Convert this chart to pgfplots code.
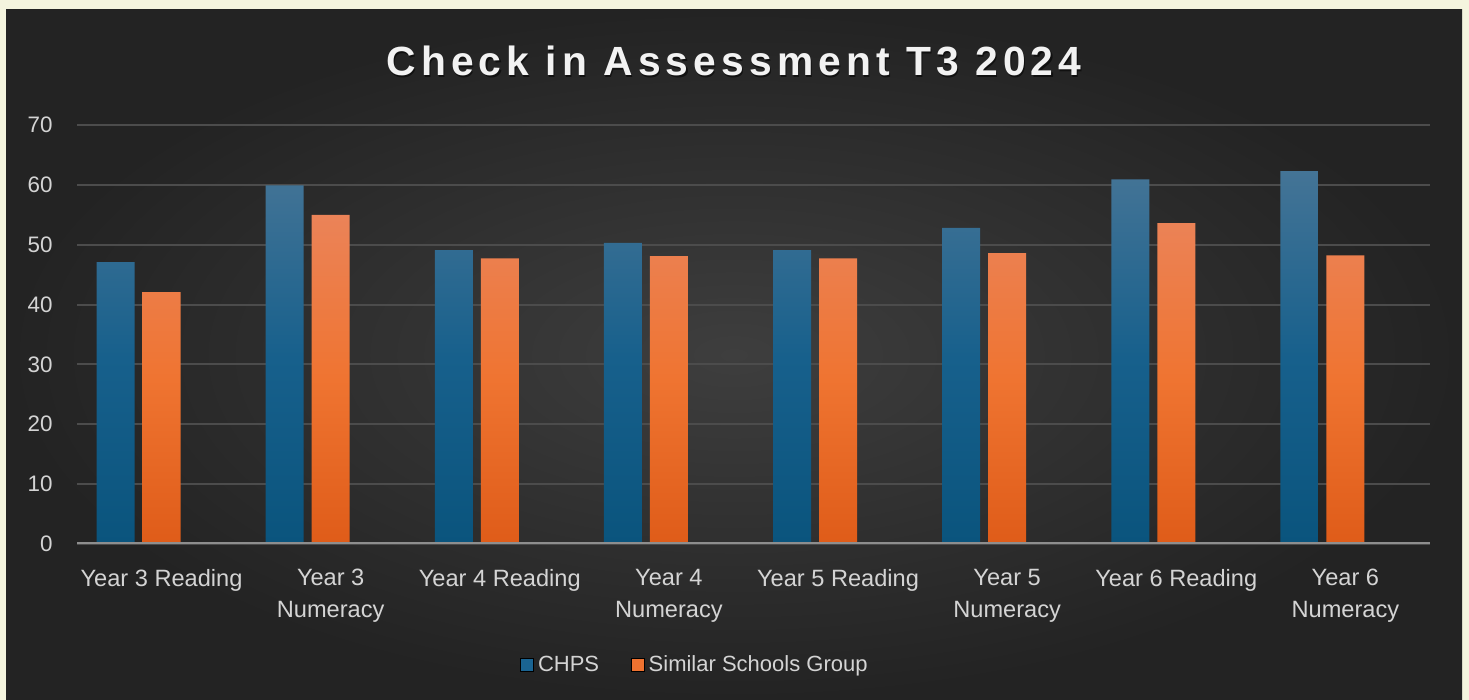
\documentclass[border=0pt]{standalone}
\usepackage{fontspec}
\setmainfont{Liberation Sans}
\newfontfamily\titlefont[LetterSpace=12.5]{Liberation Sans}
\usepackage{pgfplots}
\pgfplotsset{compat=1.18}
\definecolor{cream}{HTML}{F4F4DE}
\definecolor{bgin}{HTML}{3E3E3E}
\definecolor{bgout}{HTML}{232323}
\definecolor{titlecol}{HTML}{F2F2F2}
\definecolor{labelgray}{HTML}{D4D4D4}
\definecolor{gridgray}{HTML}{4C4C4C}
\definecolor{axisgray}{HTML}{8E8E8E}
\definecolor{bluetop}{HTML}{447496}
\definecolor{bluemid}{HTML}{17608C}
\definecolor{bluebot}{HTML}{0A547D}
\definecolor{orangetop}{HTML}{EB8358}
\definecolor{orangemid}{HTML}{EF7431}
\definecolor{orangebot}{HTML}{DF5C19}
\definecolor{chpsblue}{HTML}{1A6492}
\definecolor{ssgorange}{HTML}{EE7230}
\begin{document}
\begin{tikzpicture}
\useasboundingbox (0,0) rectangle (734.5pt,350pt);
\fill[cream] (0,0) rectangle (734.5pt,350pt);
\shade[inner color=bgin, outer color=bgout] (3pt,0) rectangle (731pt,345pt);
\node[anchor=base, text=black, opacity=0.55, inner sep=0pt] at (367.6pt,311.2pt) {\titlefont\fontsize{20.4}{24}\selectfont\bfseries Check in Assessment T3 2024};
\node[anchor=base, text=titlecol, inner sep=0pt] at (367pt,312pt) {\titlefont\fontsize{20.4}{24}\selectfont\bfseries Check in Assessment T3 2024};
\begin{axis}[
  at={(38.5pt,78pt)}, anchor=south west,
  scale only axis, width=676.5pt, height=209.5pt,
  xmin=-0.5, xmax=7.5, ymin=0, ymax=70,
  ytick={0,10,...,70},
  xtick={0,...,7},
  xticklabels={{Year 3 Reading},{Year 3\\Numeracy},{Year 4 Reading},{Year 4\\Numeracy},{Year 5 Reading},{Year 5\\Numeracy},{Year 6 Reading},{Year  6\\Numeracy}},
  ymajorgrids,
  grid style={color=gridgray, line width=1pt},
  axis line style={draw=none},
  major tick length=0pt,
  /pgf/number format/assume math mode=true,
  yticklabel style={anchor=east, inner sep=0pt, xshift=-12pt, text=labelgray, font=\fontsize{11.2}{13}\selectfont},
  xticklabel style={anchor=north, inner sep=0pt, yshift=-12.5pt, align=center, text=labelgray, font=\fontsize{11.8}{15.8}\selectfont},
  legend style={at={(0.4575,-0.289)}, anchor=center, draw=none, fill=none, legend columns=2, text=labelgray, font=\fontsize{11}{13}\selectfont, /tikz/every even column/.append style={column sep=14pt}},
  legend image code/.code={\fill[#1] (0pt,-3.2pt) rectangle (6.4pt,3.2pt);},
]
\addlegendimage{fill=chpsblue}
\addlegendentry{CHPS}
\addlegendimage{fill=ssgorange}
\addlegendentry{Similar Schools Group}
\addplot[ybar, bar width=19pt, bar shift=-23pt, draw=none, top color=bluetop, bottom color=bluebot, middle color=bluemid, forget plot]
  coordinates {(0,47.1) (1,59.9) (2,49.1) (3,50.3) (4,49.1) (5,52.8) (6,60.9) (7,62.3)};
\addplot[ybar, bar width=19pt, bar shift=0pt, draw=none, top color=orangetop, bottom color=orangebot, middle color=orangemid, forget plot]
  coordinates {(0,42.1) (1,55.0) (2,47.7) (3,48.1) (4,47.7) (5,48.6) (6,53.6) (7,48.2)};
\draw[axisgray, line width=1.5pt] (axis cs:-0.5,0) -- (axis cs:7.5,0);
\end{axis}
\end{tikzpicture}
\end{document}
